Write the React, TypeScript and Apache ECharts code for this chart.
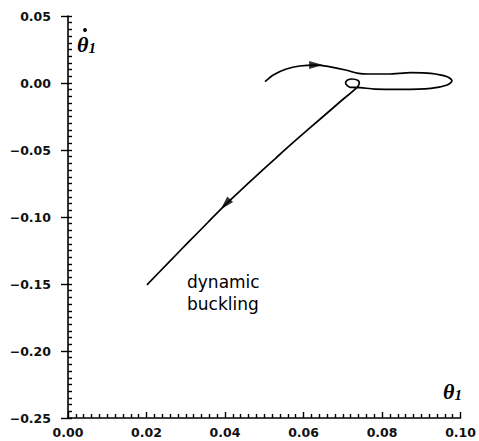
import React, { useEffect, useRef } from "react";
import * as echarts from "echarts";

// Trajectory (theta1, theta1-dot)
const trajX = [
  0.0502, 0.0523, 0.0556, 0.059, 0.0632, 0.0665, 0.0707, 0.074, 0.0765, 0.0815,
  0.0874, 0.0924, 0.0966, 0.0978, 0.0966, 0.0924, 0.0849, 0.0782, 0.0744, 0.0719,
  0.0707, 0.0712, 0.0724, 0.0739, 0.0742, 0.0737, 0.0694, 0.0644, 0.0581, 0.0531,
  0.0481, 0.0431, 0.0401, 0.0356, 0.0306, 0.0256, 0.0201,
];
const trajY = [
  0.001, 0.006, 0.0104, 0.0127, 0.0134, 0.0122, 0.0097, 0.0072, 0.0067, 0.0067,
  0.0077, 0.0072, 0.0047, 0.0017, -0.0015, -0.004, -0.0047, -0.0045, -0.0034, -0.0032,
  0.0, 0.0022, 0.003, 0.0019, 0.0, -0.003, -0.0138, -0.0265, -0.0425, -0.0556,
  -0.069, -0.0825, -0.0907, -0.1041, -0.119, -0.134, -0.1507,
];

// Direction arrows
const arrowX = [0.0632, 0.0401];
const arrowY = [0.0134, -0.0905];
const arrowAngle = [-90, 137];

// Axes
const xMin = 0;
const xMax = 0.1;
const xStep = 0.02;
const yMin = -0.25;
const yMax = 0.05;
const yStep = 0.05;

const annotation = ["dynamic", "buckling"];

const fmt = (v: number, d: number) => {
  const s = Math.abs(v).toFixed(d);
  return v < -1e-9 ? "\u2212" + s : s;
};

export default function App() {
  const ref = useRef<HTMLDivElement>(null);
  useEffect(() => {
    if (!ref.current) return;
    const chart = echarts.init(ref.current, null, { renderer: "svg" });
    const labelStyle = {
      color: "#111",
      fontFamily: "DejaVu Sans",
      fontWeight: "bold" as const,
      fontSize: 12.5,
    };
    const tickLine = { color: "#000", width: 1.4 };
    chart.setOption({
      animation: false,
      backgroundColor: "#fff",
      grid: { left: 68, top: 16, right: 12, bottom: 23, containLabel: false },
      xAxis: {
        type: "value",
        min: xMin,
        max: xMax,
        interval: xStep,
        axisLine: { show: true, onZero: false, lineStyle: { color: "#000", width: 1.6 } },
        axisTick: { show: true, inside: true, length: 6, lineStyle: tickLine },
        minorTick: { show: true, splitNumber: 10, length: 4, lineStyle: tickLine },
        splitLine: { show: false },
        minorSplitLine: { show: false },
        axisLabel: { ...labelStyle, margin: 8, formatter: (v: number) => fmt(v, 2) },
      },
      yAxis: [
        {
          type: "value",
          min: yMin,
          max: yMax,
          interval: yStep,
          axisLine: { show: true, onZero: false, lineStyle: { color: "#000", width: 1.6 } },
          axisTick: { show: true, inside: true, length: 4, lineStyle: tickLine },
          minorTick: { show: true, splitNumber: 10, length: 4, lineStyle: tickLine },
          splitLine: { show: false },
          minorSplitLine: { show: false },
          axisLabel: { ...labelStyle, margin: 17, formatter: (v: number) => fmt(v, 2) },
        },
        {
          type: "value",
          position: "left",
          offset: 0,
          min: yMin,
          max: yMax,
          interval: yStep,
          axisLine: { show: false },
          axisTick: { show: true, inside: false, length: 7, lineStyle: tickLine },
          splitLine: { show: false },
          axisLabel: { show: false },
        },
      ],
      series: [
        {
          type: "line",
          data: trajX.map((x, i) => [x, trajY[i]]),
          showSymbol: false,
          smooth: 0.3,
          lineStyle: { color: "#000", width: 1.7 },
          silent: true,
        },
        {
          type: "scatter",
          data: arrowX.map((x, i) => ({ value: [x, arrowY[i]], symbolRotate: arrowAngle[i] })),
          symbol: "triangle",
          symbolSize: [8, 14],
          itemStyle: { color: "#000" },
          silent: true,
        },
      ],
      graphic: [
        {
          type: "text",
          left: 187,
          top: 271,
          style: {
            text: annotation.join("\n"),
            font: "17px 'DejaVu Sans'",
            lineHeight: 22,
            fill: "#000",
          },
        },
        {
          type: "text",
          left: 77,
          top: 33,
          style: {
            text: "{a|\u03b8}{b|1}",
            rich: {
              a: { fontFamily: "Liberation Serif", fontStyle: "italic", fontWeight: "bold", fontSize: 22, fill: "#000" },
              b: { fontFamily: "Liberation Serif", fontStyle: "italic", fontWeight: "bold", fontSize: 15, fill: "#000", verticalAlign: "bottom" },
            },
          },
        },
        { type: "circle", shape: { cx: 85, cy: 30, r: 1.9 }, style: { fill: "#000" } },
        {
          type: "text",
          left: 443,
          top: 380,
          style: {
            text: "{a|\u03b8}{b|1}",
            rich: {
              a: { fontFamily: "Liberation Serif", fontStyle: "italic", fontWeight: "bold", fontSize: 22, fill: "#000" },
              b: { fontFamily: "Liberation Serif", fontStyle: "italic", fontWeight: "bold", fontSize: 15, fill: "#000", verticalAlign: "bottom" },
            },
          },
        },
      ],
    });
    return () => chart.dispose();
  }, []);
  return (
    <div
      ref={ref}
      style={{ position: "absolute", left: 0, top: 0, width: 479, height: 441, background: "#fff" }}
    />
  );
}
